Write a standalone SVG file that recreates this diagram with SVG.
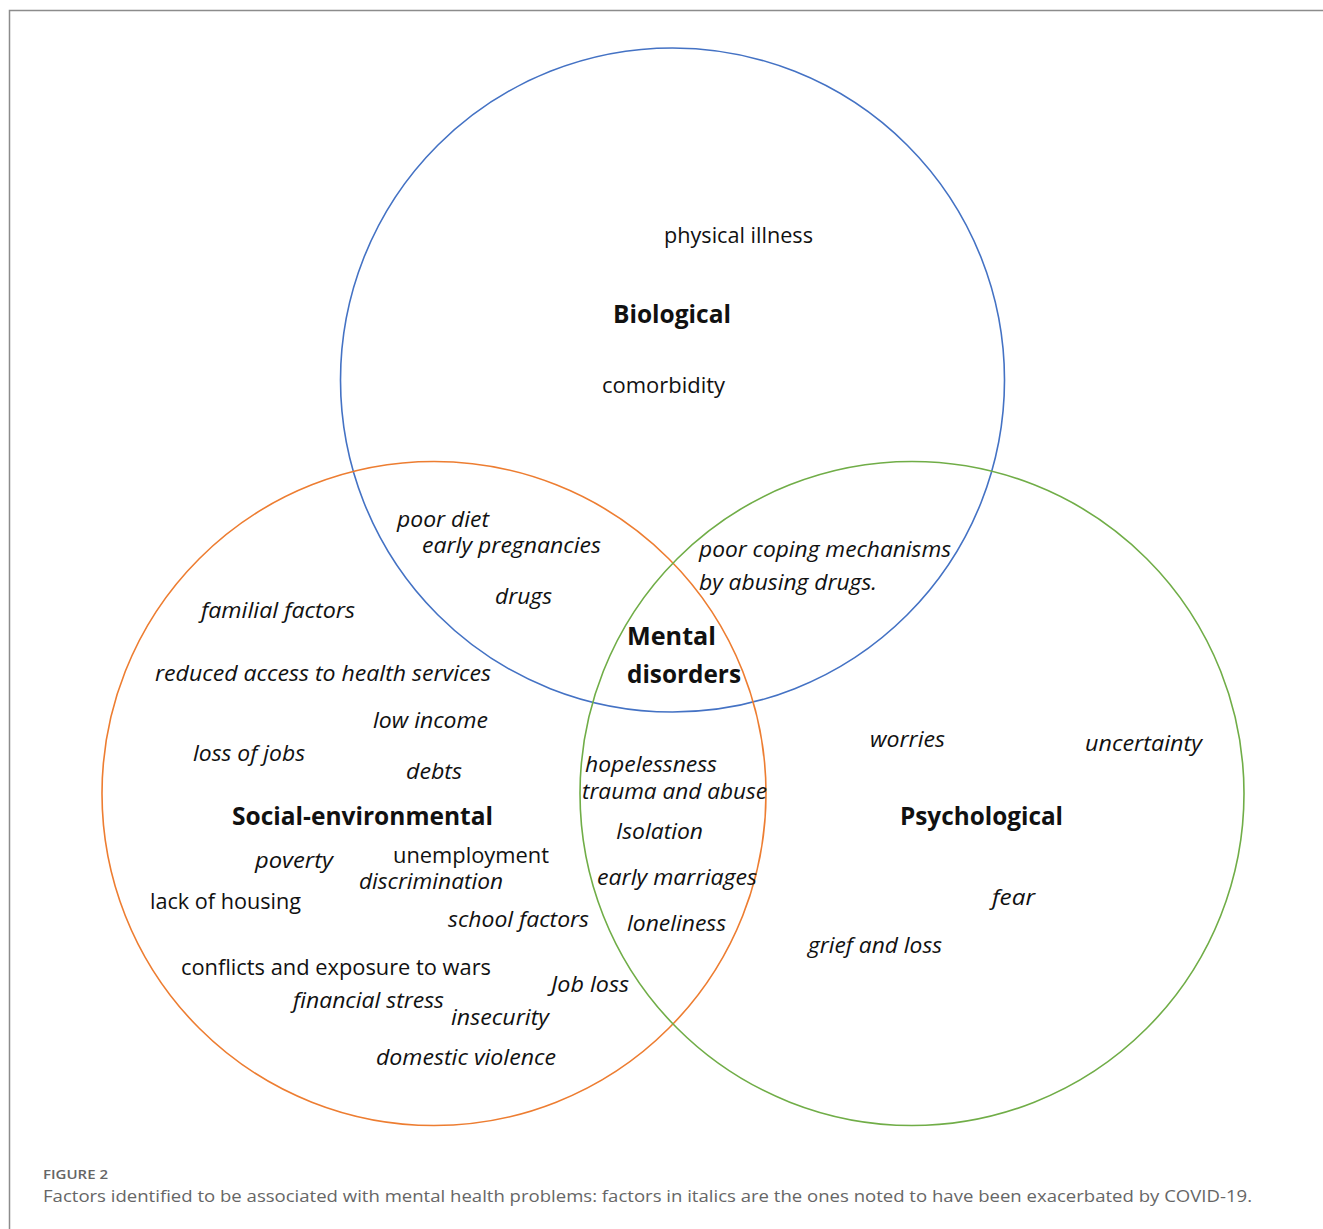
<svg xmlns="http://www.w3.org/2000/svg" width="1323" height="1229" viewBox="0 0 1323 1229">
<style>
  .r{font-family:"Open Sans","Liberation Sans",sans-serif;font-size:21px;fill:#111}
  .i{font-family:"Open Sans","Liberation Sans",sans-serif;font-size:21px;font-style:italic;fill:#111}
  .b{font-family:"Open Sans","Liberation Sans",sans-serif;font-size:25px;font-weight:bold;fill:#111}
  .cap{font-family:"Open Sans","Liberation Sans",sans-serif;fill:#666}
  .c{fill:none;stroke-width:1.6}
</style>
<rect width="1323" height="1229" fill="#fff"/>
<path d="M9.5 1229V10.5H1323" fill="none" stroke="#8c8c8c" stroke-width="1.5"/>
<g id="connectors"></g>
<g id="biological">
  <circle class="c" cx="672.5" cy="380" r="332" stroke="#4472C4"/>
  <text class="b" x="613" y="323" textLength="118" lengthAdjust="spacingAndGlyphs">Biological</text>
  <text class="r" x="664" y="243" textLength="149" lengthAdjust="spacingAndGlyphs">physical illness</text>
  <text class="r" x="602" y="393" textLength="123" lengthAdjust="spacingAndGlyphs">comorbidity</text>
</g>
<g id="social">
  <circle class="c" cx="434" cy="793.5" r="332" stroke="#ED7D31"/>
  <text class="b" x="232" y="825" textLength="261" lengthAdjust="spacingAndGlyphs">Social-environmental</text>
  <text class="i" x="201" y="618" textLength="154" lengthAdjust="spacingAndGlyphs">familial factors</text>
  <text class="i" x="155" y="681" textLength="336" lengthAdjust="spacingAndGlyphs">reduced access to health services</text>
  <text class="i" x="373" y="728" textLength="115" lengthAdjust="spacingAndGlyphs">low income</text>
  <text class="i" x="193" y="761" textLength="112" lengthAdjust="spacingAndGlyphs">loss of jobs</text>
  <text class="i" x="406" y="779" textLength="56" lengthAdjust="spacingAndGlyphs">debts</text>
  <text class="i" x="255" y="868" textLength="78" lengthAdjust="spacingAndGlyphs">poverty</text>
  <text class="r" x="393" y="863" font-size="20" textLength="156" lengthAdjust="spacingAndGlyphs">unemployment</text>
  <text class="i" x="359" y="889" font-size="20" textLength="144" lengthAdjust="spacingAndGlyphs">discrimination</text>
  <text class="r" x="150" y="909" textLength="151" lengthAdjust="spacingAndGlyphs">lack of housing</text>
  <text class="i" x="448" y="927" textLength="141" lengthAdjust="spacingAndGlyphs">school factors</text>
  <text class="r" x="181" y="975" textLength="310" lengthAdjust="spacingAndGlyphs">conflicts and exposure to wars</text>
  <text class="i" x="551" y="992" textLength="78" lengthAdjust="spacingAndGlyphs">Job loss</text>
  <text class="i" x="293" y="1008" textLength="151" lengthAdjust="spacingAndGlyphs">financial stress</text>
  <text class="i" x="451" y="1025" textLength="98" lengthAdjust="spacingAndGlyphs">insecurity</text>
  <text class="i" x="376" y="1065" textLength="180" lengthAdjust="spacingAndGlyphs">domestic violence</text>
</g>
<g id="psychological">
  <circle class="c" cx="912" cy="793.5" r="332" stroke="#70AD47"/>
  <text class="b" x="900" y="825" textLength="163" lengthAdjust="spacingAndGlyphs">Psychological</text>
  <text class="i" x="870" y="747" textLength="75" lengthAdjust="spacingAndGlyphs">worries</text>
  <text class="i" x="1085" y="751" textLength="117" lengthAdjust="spacingAndGlyphs">uncertainty</text>
  <text class="i" x="992" y="905" textLength="43" lengthAdjust="spacingAndGlyphs">fear</text>
  <text class="i" x="808" y="953" textLength="134" lengthAdjust="spacingAndGlyphs">grief and loss</text>
</g>
<g id="bio-social">
  <text class="i" x="397" y="527" textLength="92" lengthAdjust="spacingAndGlyphs">poor diet</text>
  <text class="i" x="422" y="553" textLength="179" lengthAdjust="spacingAndGlyphs">early pregnancies</text>
  <text class="i" x="495" y="604" textLength="57" lengthAdjust="spacingAndGlyphs">drugs</text>
</g>
<g id="bio-psych">
  <text class="i" x="699" y="557" textLength="252" lengthAdjust="spacingAndGlyphs">poor coping mechanisms</text>
  <text class="i" x="699" y="590" textLength="178" lengthAdjust="spacingAndGlyphs">by abusing drugs.</text>
</g>
<g id="social-psych">
  <text class="i" x="585" y="772" textLength="132" lengthAdjust="spacingAndGlyphs">hopelessness</text>
  <text class="i" x="582" y="799" textLength="185" lengthAdjust="spacingAndGlyphs">trauma and abuse</text>
  <text class="i" x="616" y="839" textLength="87" lengthAdjust="spacingAndGlyphs">Isolation</text>
  <text class="i" x="597" y="885" textLength="160" lengthAdjust="spacingAndGlyphs">early marriages</text>
  <text class="i" x="627" y="931" textLength="99" lengthAdjust="spacingAndGlyphs">loneliness</text>
</g>
<g id="mental-disorders">
  <text class="b" x="627" y="645" textLength="89" lengthAdjust="spacingAndGlyphs">Mental</text>
  <text class="b" x="627" y="683" textLength="114" lengthAdjust="spacingAndGlyphs">disorders</text>
</g>
<g id="caption">
  <text class="cap" x="43" y="1179" font-size="13" font-weight="600" textLength="65" lengthAdjust="spacingAndGlyphs">FIGURE 2</text>
  <text class="cap" x="43" y="1202" font-size="17" textLength="1209" lengthAdjust="spacingAndGlyphs">Factors identified to be associated with mental health problems: factors in italics are the ones noted to have been exacerbated by COVID-19.</text>
</g>
</svg>
